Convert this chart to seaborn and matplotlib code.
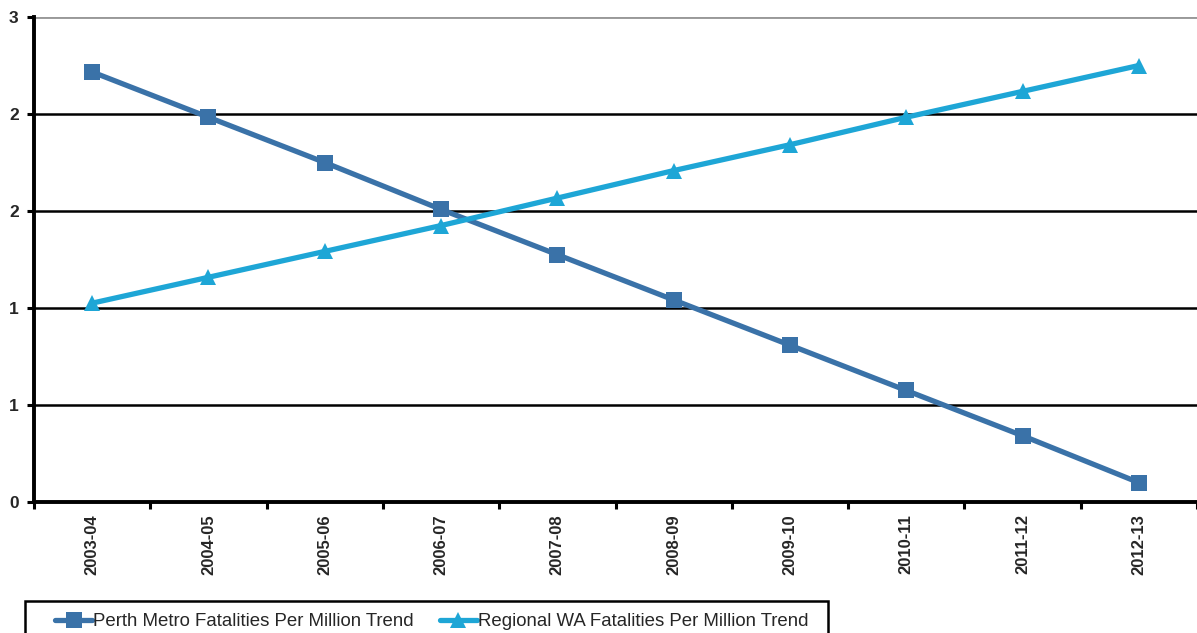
import pandas as pd
import numpy as np
import matplotlib
matplotlib.use("Agg")
import matplotlib.pyplot as plt
from matplotlib.patches import Rectangle
from matplotlib.ticker import FormatStrFormatter
import seaborn as sns

years = ["2003-04", "2004-05", "2005-06", "2006-07", "2007-08",
         "2008-09", "2009-10", "2010-11", "2011-12", "2012-13"]
perth_trend = [2.66, 2.38, 2.10, 1.81, 1.53, 1.25, 0.97, 0.69, 0.41, 0.12]
regional_trend = [1.23, 1.39, 1.55, 1.71, 1.88, 2.05, 2.21, 2.38, 2.54, 2.70]
series_names = ["Perth Metro Fatalities Per Million Trend",
                "Regional WA Fatalities Per Million Trend"]

df = pd.DataFrame({
    "Year": years * 2,
    "Value": perth_trend + regional_trend,
    "Series": [series_names[0]] * len(years) + [series_names[1]] * len(years),
})

sns.set_theme(style="white")
plt.rcParams["font.family"] = ["Liberation Sans", "DejaVu Sans"]

W, H = 1197, 633
fig = plt.figure(figsize=(W / 100, H / 100), dpi=100)
ax = fig.add_axes([34 / W, 131 / H, 1 - 34 / W, 485 / H])

palette = {series_names[0]: "#3a72a8", series_names[1]: "#1ea6d6"}
sns.lineplot(data=df, x="Year", y="Value", hue="Series", style="Series",
             markers={series_names[0]: "s", series_names[1]: "^"},
             dashes=False, palette=palette, linewidth=3.8, markersize=11,
             markeredgewidth=0, sort=False, ax=ax)

ax.set_xlim(-0.5, len(years) - 0.5)
ax.set_ylim(0, 3)
ax.set_yticks(np.arange(0, 3.01, 0.6))
ax.yaxis.set_major_formatter(FormatStrFormatter("%.0f"))
ax.set_xticks(range(len(years)))
ax.set_xticklabels(years, rotation=90, fontsize=12, fontweight="bold")
for lbl in ax.get_yticklabels():
    lbl.set_fontsize(12.5)
    lbl.set_fontweight("bold")

# tick marks between categories on x
ax.set_xticks(np.arange(-0.5, len(years), 1), minor=True)
ax.tick_params(axis="x", which="major", length=0, pad=9)
ax.tick_params(axis="x", which="minor", length=5, width=2.2, direction="out",
               color="black", bottom=True)
ax.tick_params(axis="y", length=5, width=2.2, direction="out", color="black",
               left=True, pad=6)

ax.yaxis.grid(True, color="black", linewidth=1.8)
ax.set_axisbelow(True)
ax.get_ygridlines()[-1].set_color("#999999")
ax.get_ygridlines()[-1].set_linewidth(2.8)

ax.spines["right"].set_visible(False)
ax.spines["top"].set_visible(False)
ax.spines["left"].set_color("black")
ax.spines["left"].set_linewidth(2.8)
ax.spines["bottom"].set_color("black")
ax.spines["bottom"].set_linewidth(2.8)

ax.set_xlabel("")
ax.set_ylabel("")

handles, labels = ax.get_legend_handles_labels()
ax.get_legend().remove()
leg = fig.legend(handles, labels, loc="upper left",
                 bbox_to_anchor=(55 / W, 1 - 613 / H), ncol=2,
                 frameon=False, fontsize=13.4,
                 handlelength=2.0, handletextpad=0.05, columnspacing=1.4,
                 borderpad=0, borderaxespad=0)

# legend box runs off the bottom of the image like the original
fig.add_artist(Rectangle((25 / W, -0.05), (828 - 25) / W, (H - 601) / H + 0.05,
                         transform=fig.transFigure, fill=False,
                         edgecolor="black", linewidth=1.8))

fig.savefig("out.png", dpi=100)
